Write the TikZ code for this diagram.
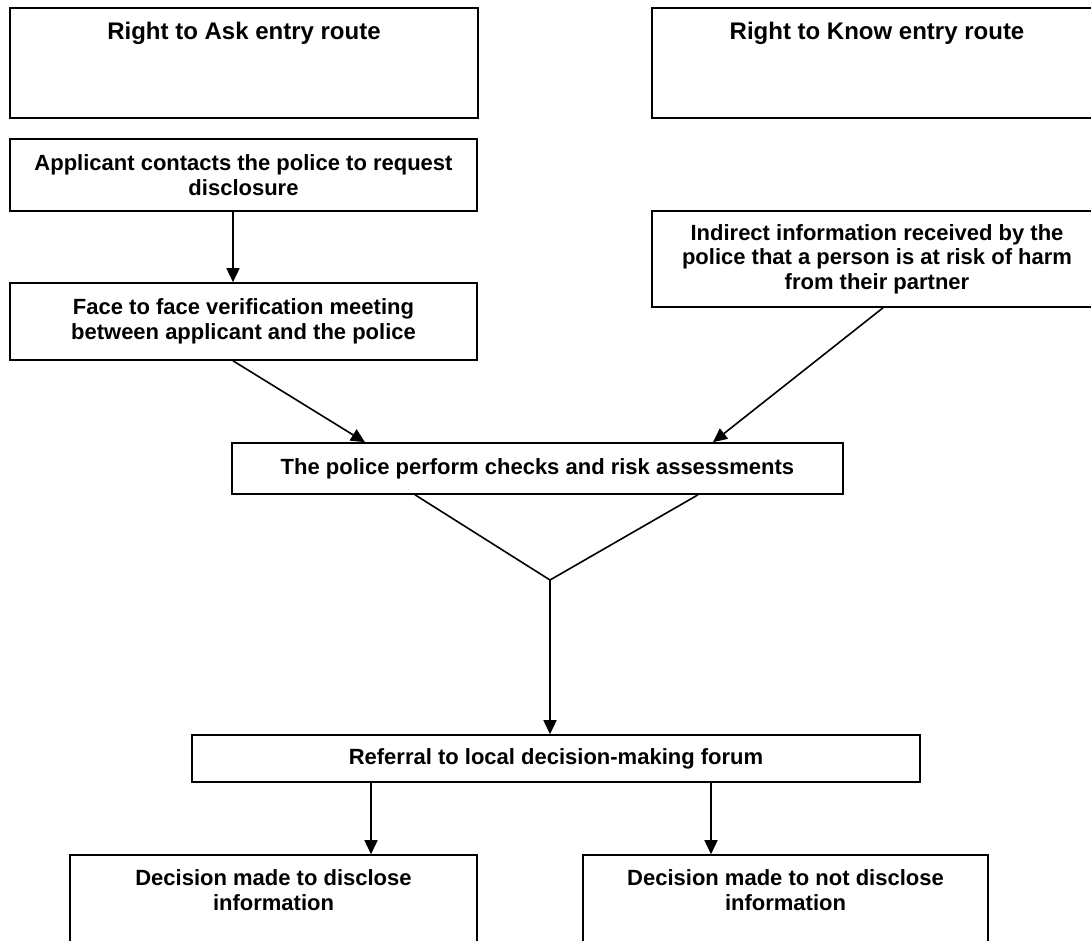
\documentclass[tikz,border=0pt]{standalone}
\usepackage{fontspec}
\setmainfont{Liberation Sans}
\usetikzlibrary{arrows.meta}
\newcommand\myBodyFont{\fontsize{22}{24.5}\selectfont\bfseries}
\newcommand\myTitleFont{\fontsize{24}{26}\selectfont\bfseries}
\begin{document}
\begin{tikzpicture}[x=1pt,y=-1pt,
  box/.style={draw, line width=1.6pt, rectangle, inner sep=0pt, align=center, font=\myBodyFont},
  txt/.style={inner sep=0pt, align=center, font=\myBodyFont},
  ttl/.style={inner sep=0pt, align=center, font=\myTitleFont},
  conn/.style={line width=1.6pt},
  arr/.style={line width=1.6pt, -{Triangle[length=14pt,width=13pt]}}]
\useasboundingbox (0,0) rectangle (1091,940);
\fill[white] (0,0) rectangle (1091,940);
% top boxes
\node[box, minimum width=468pt, minimum height=110pt] (askT) at (244,63) {};
\node[ttl] (askTxt) at ([yshift=-26pt]askT.north) {Right to Ask entry route};
\node[box, minimum width=450pt, minimum height=110pt] (knowT) at (877,63) {};
\node[ttl] (knowTxt) at ([yshift=-26pt]knowT.north) {Right to Know entry route};
% left route
\node[box, minimum width=467pt, minimum height=72pt] (app) at (243.5,175)
  {Applicant contacts the police to request\\disclosure};
\node[box, minimum width=467pt, minimum height=77pt] (face) at (243.5,321.5)
  {Face to face verification meeting\\between applicant and the police};
% right route
\node[box, minimum width=450pt, minimum height=96pt] (ind) at (877,259)
  {Indirect information received by the\\police that a person is at risk of harm\\from their partner};
% centre
\node[box, minimum width=611pt, minimum height=51pt] (pol) at (537.5,468.5)
  {The police perform checks and risk assessments};
\coordinate (J) at (550,580);
\node[box, minimum width=728pt, minimum height=47pt] (ref) at (556,758.5)
  {Referral to local decision-making forum};
% bottom boxes
\node[box, minimum width=407pt, minimum height=110pt] (disc) at (273.5,910) {};
\node[txt] (discTxt) at ([yshift=-36pt]disc.north) {Decision made to disclose\\information};
\node[box, minimum width=405pt, minimum height=110pt] (nodisc) at (785.5,910) {};
\node[txt] (nodiscTxt) at ([yshift=-36pt]nodisc.north) {Decision made to not disclose\\information};
% connectors
\draw[arr] ([xshift=-10.5pt]app.south) -- ([xshift=-10.5pt]face.north);
\draw[arr] ([xshift=-10.5pt]face.south) -- ([xshift=-172.5pt]pol.north);
\draw[arr] ([xshift=6pt]ind.south) -- ([xshift=175.5pt]pol.north);
\draw[conn] ([xshift=-122.5pt]pol.south) -- (J) -- ([xshift=160.5pt]pol.south);
\draw[arr] (J) -- ([xshift=-6pt]ref.north);
\draw[arr] ([xshift=-185pt]ref.south) -- ([xshift=97.5pt]disc.north);
\draw[arr] ([xshift=155pt]ref.south) -- ([xshift=-74.5pt]nodisc.north);
\end{tikzpicture}
\end{document}
